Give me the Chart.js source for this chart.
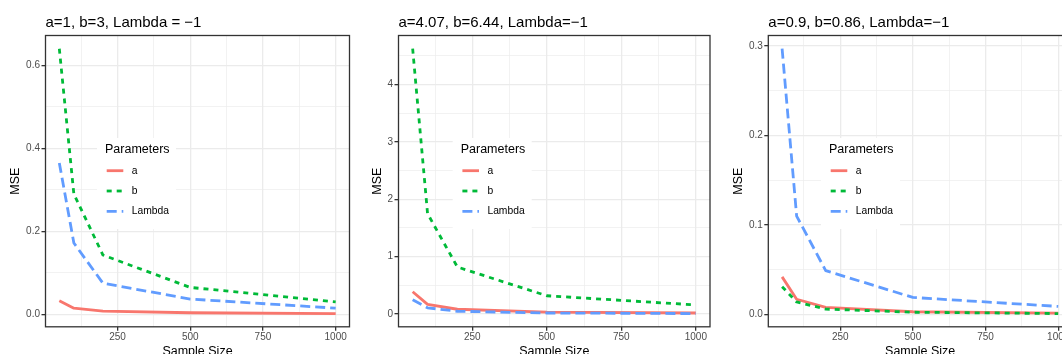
<!DOCTYPE html>
<html>
<head>
<meta charset="utf-8">
<script src="https://cdn.jsdelivr.net/npm/chart.js@4.4.1/dist/chart.umd.min.js"></script>
<style>
  html, body { margin: 0; padding: 0; background: #ffffff; width: 1062px; height: 354px; overflow: hidden; position: relative; }
  .cell { position: absolute; top: 0; height: 364px; }
  canvas { display: block; }
</style>
</head>
<body>
<div class="cell" style="left:0px;width:356px"><canvas id="k1" width="356" height="364" style="width:356px;height:364px"></canvas></div>
<div class="cell" style="left:357px;width:357px"><canvas id="k2" width="357" height="364" style="width:357px;height:364px"></canvas></div>
<div class="cell" style="left:716px;width:362px"><canvas id="k3" width="362" height="364" style="width:362px;height:364px"></canvas></div>
<script>
// ---------- data ----------
const sampleSizes = [50, 100, 200, 500, 1000];
const seriesNames = ['a', 'b', 'Lambda'];

const titles = [
  'a=1, b=3, Lambda = \u22121',
  'a=4.07, b=6.44, Lambda=\u22121',
  'a=0.9, b=0.86, Lambda=\u22121'
];

// panel 1
const p1A      = [0.033, 0.015, 0.008, 0.004, 0.002];
const p1B      = [0.640, 0.290, 0.143, 0.065, 0.030];
const p1Lambda = [0.365, 0.172, 0.075, 0.037, 0.015];
// panel 2
const p2A      = [0.39, 0.17, 0.085, 0.035, 0.02];
const p2B      = [4.62, 1.75, 0.82, 0.32, 0.16];
const p2Lambda = [0.25, 0.11, 0.05, 0.02, 0.01];
// panel 3
const p3A      = [0.042, 0.017, 0.008, 0.003, 0.0015];
const p3B      = [0.031, 0.014, 0.006, 0.0025, 0.001];
const p3Lambda = [0.297, 0.110, 0.049, 0.019, 0.009];

// tick values / labels
const xTickValues = [250, 500, 750, 1000];
const xTickLabels = ['250', '500', '750', '1000'];
const p1YTicks = [0, 0.2, 0.4, 0.6];   const p1YLabels = ['0.0', '0.2', '0.4', '0.6'];
const p2YTicks = [0, 1, 2, 3, 4];      const p2YLabels = ['0', '1', '2', '3', '4'];
const p3YTicks = [0, 0.1, 0.2, 0.3];   const p3YLabels = ['0.0', '0.1', '0.2', '0.3'];

// ---------- styles ----------
const seriesColors = ['#F8766D', '#00BA38', '#619CFF'];
const seriesDashes = [[], [5, 5], [10, 5]];
const FONT = '"Liberation Sans", Arial, Helvetica, sans-serif';

function expandRange(values) {
  const lo = Math.min(...values), hi = Math.max(...values);
  const d = (hi - lo) * 0.05;
  return [lo - d, hi + d];
}
function minorBreaks(major, lo, hi) {
  const step = major[1] - major[0];
  const ext = [major[0] - step, ...major, major[major.length - 1] + step];
  const out = [];
  for (let i = 0; i < ext.length - 1; i++) {
    const m = (ext[i] + ext[i + 1]) / 2;
    if (m >= lo && m <= hi) out.push(m);
  }
  return out;
}
function majorIndex(major, v) {
  for (let i = 0; i < major.length; i++) if (Math.abs(major[i] - v) < 1e-9) return i;
  return -1;
}

const decor = {
  id: 'decor',
  afterDraw(chart, args, opts) {
    const { ctx } = chart;
    const { left, top, right, bottom } = chart.chartArea;
    ctx.save();
    // title
    ctx.fillStyle = '#000000';
    ctx.font = '15px ' + FONT;
    ctx.textAlign = 'left';
    ctx.textBaseline = 'alphabetic';
    ctx.fillText(opts.title, left, 26.7);
    // legend
    const lx = left + opts.legendDx, ly = opts.legendY;
    ctx.fillStyle = '#ffffff';
    ctx.fillRect(lx, ly, 79, 91);
    ctx.fillStyle = '#000000';
    ctx.font = '12.5px ' + FONT;
    ctx.fillText('Parameters', lx + 8, ly + 14.7);
    chart.data.datasets.forEach((ds, i) => {
      const y = ly + 32.7 + i * 20.3;
      ctx.beginPath();
      ctx.setLineDash(ds.borderDash || []);
      ctx.strokeStyle = ds.borderColor;
      ctx.lineWidth = ds.borderWidth;
      ctx.lineCap = 'butt';
      ctx.moveTo(lx + 9.7, y);
      ctx.lineTo(lx + 26.3, y);
      ctx.stroke();
      ctx.setLineDash([]);
      ctx.fillStyle = '#000000';
      ctx.font = '10.3px ' + FONT;
      ctx.textBaseline = 'middle';
      ctx.fillText(ds.label, lx + 34.7, y);
      ctx.textBaseline = 'alphabetic';
    });
    // panel border
    ctx.strokeStyle = '#333333';
    ctx.lineWidth = 1.3;
    ctx.strokeRect(left, top, right - left, bottom - top);
    ctx.restore();
  }
};

const panels = [
  { id: 'k1', padLeft: 8.1,  yWidth: 37.4, padRight: 6.5, title: titles[0], series: [p1A, p1B, p1Lambda], yTicks: p1YTicks, yLabels: p1YLabels, legendDx: 51.5, legendY: 138 },
  { id: 'k2', padLeft: 12.8, yWidth: 28.7, padRight: 4,   title: titles[1], series: [p2A, p2B, p2Lambda], yTicks: p2YTicks, yLabels: p2YLabels, legendDx: 54.2, legendY: 138 },
  { id: 'k3', padLeft: 14.8, yWidth: 37.5, padRight: 6,   title: titles[2], series: [p3A, p3B, p3Lambda], yTicks: p3YTicks, yLabels: p3YLabels, legendDx: 52.7, legendY: 138 }
];

const [xMin, xMax] = expandRange(sampleSizes);
const xMinor = minorBreaks(xTickValues, xMin, xMax);
const xAll = [...xTickValues, ...xMinor].sort((a, b) => a - b);

panels.forEach(p => {
  const [yMin, yMax] = expandRange([].concat(...p.series));
  const yMinor = minorBreaks(p.yTicks, yMin, yMax);
  const yAll = [...p.yTicks, ...yMinor].sort((a, b) => a - b);

  const datasets = p.series.map((vals, i) => ({
    label: seriesNames[i],
    data: sampleSizes.map((x, j) => ({ x: x, y: vals[j] })),
    borderColor: seriesColors[i],
    backgroundColor: seriesColors[i],
    borderWidth: 2.8,
    borderDash: seriesDashes[i],
    borderCapStyle: 'butt',
    borderJoinStyle: 'round',
    pointRadius: 0,
    tension: 0,
    fill: false,
    order: 3 - i
  }));

  const gridFor = (major) => ({
    color: '#EBEBEB',
    lineWidth: ctx => (ctx.tick && majorIndex(major, ctx.tick.value) >= 0) ? 1.3 : 0.65,
    tickColor: ctx => (ctx.tick && majorIndex(major, ctx.tick.value) >= 0) ? '#333333' : 'rgba(0,0,0,0)',
    tickWidth: 1.3,
    tickLength: 4,
    drawTicks: true,
    drawOnChartArea: true
  });

  new Chart(document.getElementById(p.id), {
    type: 'line',
    data: { datasets },
    options: {
      responsive: false,
      animation: false,
      devicePixelRatio: 1,
      layout: { padding: { left: p.padLeft, right: p.padRight, top: 35.5, bottom: 5 } },
      plugins: {
        legend: { display: false },
        tooltip: { enabled: false },
        title: { display: false },
        decor: { title: p.title, legendDx: p.legendDx, legendY: p.legendY }
      },
      scales: {
        x: {
          type: 'linear',
          min: xMin,
          max: xMax,
          afterBuildTicks: s => { s.ticks = xAll.map(v => ({ value: v })); },
          afterFit: s => { s.height = 32.2; },
          border: { display: false },
          grid: gridFor(xTickValues),
          ticks: {
            autoSkip: false,
            maxRotation: 0,
            padding: 0,
            color: '#4D4D4D',
            font: { family: FONT, size: 10 },
            callback: v => { const k = majorIndex(xTickValues, v); return k >= 0 ? xTickLabels[k] : ''; }
          },
          title: { display: true, text: 'Sample Size', color: '#000000', font: { family: FONT, size: 12.5 }, padding: 0 }
        },
        y: {
          type: 'linear',
          min: yMin,
          max: yMax,
          afterBuildTicks: s => { s.ticks = yAll.map(v => ({ value: v })); },
          afterFit: s => { s.width = p.yWidth; },
          border: { display: false },
          grid: gridFor(p.yTicks),
          ticks: {
            autoSkip: false,
            padding: 1.5,
            color: '#4D4D4D',
            font: { family: FONT, size: 10 },
            callback: v => { const k = majorIndex(p.yTicks, v); return k >= 0 ? p.yLabels[k] : ''; }
          },
          title: { display: true, text: 'MSE', color: '#000000', font: { family: FONT, size: 12.5 }, padding: 0 }
        }
      }
    },
    plugins: [decor]
  });
});
</script>
</body>
</html>
